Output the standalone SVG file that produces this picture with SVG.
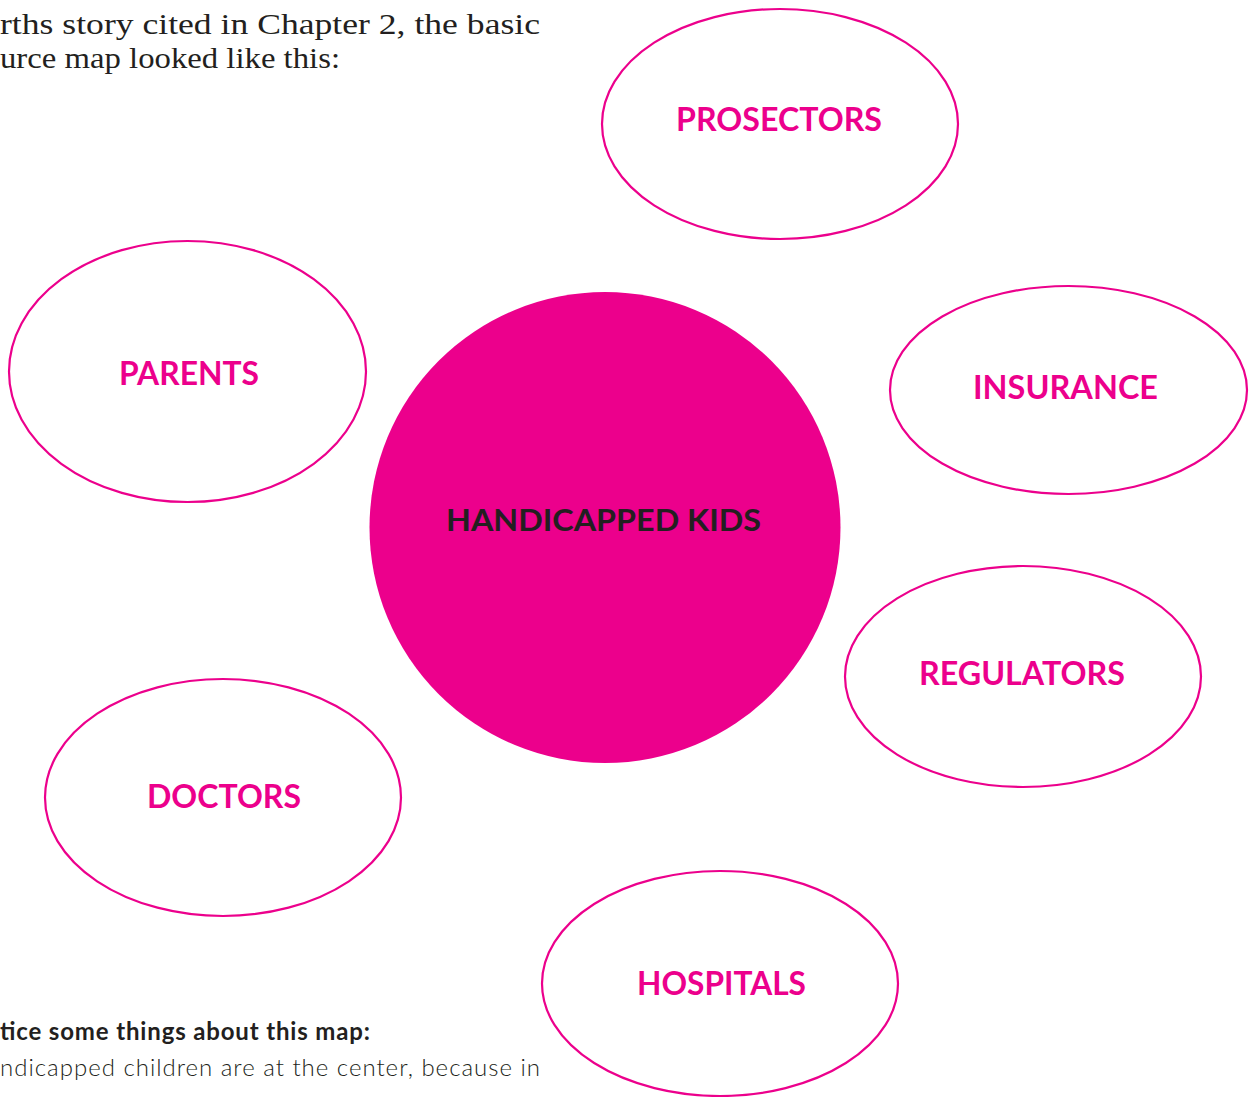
<svg xmlns="http://www.w3.org/2000/svg" width="1254" height="1097" viewBox="0 0 1254 1097">
<style>
.ring{fill:none;stroke:#EC008C;stroke-width:2.2}
.lbl{font-family:Lato,"Open Sans",sans-serif;font-weight:bold;font-size:32px;fill:#EC008C;text-anchor:middle}
.ctr{font-family:Lato,"Open Sans",sans-serif;font-weight:bold;font-size:31px;fill:#231F20;text-anchor:middle}
.serif{font-family:"Liberation Serif","DejaVu Serif",serif;font-size:29px;fill:#231F20}
.sans{font-family:Lato,"Open Sans",sans-serif;font-size:24px;fill:#231F20}
</style>
<rect width="1254" height="1097" fill="#ffffff"/>
<g id="body-text">
<text class="serif" x="0" y="34" textLength="540" lengthAdjust="spacingAndGlyphs">rths story cited in Chapter 2, the basic</text>
<text class="serif" x="0" y="68" textLength="340" lengthAdjust="spacingAndGlyphs">urce map looked like this:</text>
<text class="sans" x="0" y="1040" font-weight="bold" textLength="370" lengthAdjust="spacing">tice some things about this map:</text>
<text class="sans" x="0" y="1076" font-weight="300" textLength="540" lengthAdjust="spacing">ndicapped children are at the center, because in</text>
</g>
<g id="connectors"></g>
<g id="node-center">
<circle cx="605" cy="527.5" r="235.5" fill="#EC008C"/>
<text class="ctr" x="603.5" y="531" textLength="315" lengthAdjust="spacingAndGlyphs">HANDICAPPED KIDS</text>
</g>
<g id="node-prosectors">
<ellipse class="ring" cx="780" cy="124" rx="178" ry="115"/>
<text class="lbl" x="779" y="131" textLength="206" lengthAdjust="spacingAndGlyphs">PROSECTORS</text>
</g>
<g id="node-parents">
<ellipse class="ring" cx="187.5" cy="371.5" rx="178.5" ry="130.5"/>
<text class="lbl" x="189" y="385" textLength="140" lengthAdjust="spacingAndGlyphs">PARENTS</text>
</g>
<g id="node-insurance">
<ellipse class="ring" cx="1068.5" cy="390" rx="178.5" ry="104"/>
<text class="lbl" x="1065.5" y="399" textLength="185" lengthAdjust="spacingAndGlyphs">INSURANCE</text>
</g>
<g id="node-regulators">
<ellipse class="ring" cx="1023" cy="676.5" rx="178" ry="110.5"/>
<text class="lbl" x="1022" y="685" textLength="206" lengthAdjust="spacingAndGlyphs">REGULATORS</text>
</g>
<g id="node-doctors">
<ellipse class="ring" cx="223" cy="797.5" rx="178" ry="118.5"/>
<text class="lbl" x="224" y="808" textLength="154" lengthAdjust="spacingAndGlyphs">DOCTORS</text>
</g>
<g id="node-hospitals">
<ellipse class="ring" cx="720" cy="983.5" rx="178" ry="112.5"/>
<text class="lbl" x="721.5" y="995" textLength="169" lengthAdjust="spacingAndGlyphs">HOSPITALS</text>
</g>
</svg>
